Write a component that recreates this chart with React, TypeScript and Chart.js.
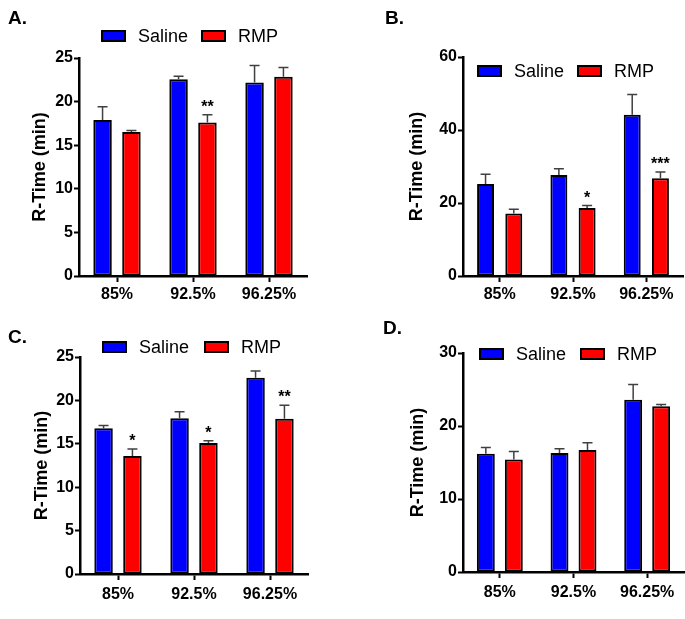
import React, { useEffect, useRef } from "react";
import { Chart, registerables } from "chart.js";
Chart.register(...registerables);

const categories = ["85%", "92.5%", "96.25%"];
const seriesNames = ["Saline", "RMP"];
const seriesColors = ["#0000FF", "#FF0000"];

// Panel A
const salineA = [17.9, 22.55, 22.2];
const salineSemA = [1.5, 0.35, 1.95];
const rmpA = [16.5, 17.6, 22.85];
const rmpSemA = [0.2, 0.9, 1.05];
const sigA = ["", "**", ""];
// Panel B
const salineB = [25.2, 27.7, 44.2];
const salineSemB = [2.7, 1.7, 5.5];
const rmpB = [17.1, 18.6, 26.8];
const rmpSemB = [1.2, 0.7, 1.7];
const sigB = ["", "*", "***"];
// Panel C
const salineC = [16.8, 17.95, 22.6];
const salineSemC = [0.3, 0.75, 0.8];
const rmpC = [13.6, 15.1, 17.9];
const rmpSemC = [0.8, 0.25, 1.55];
const sigC = ["*", "*", "**"];
// Panel D
const salineD = [16.2, 16.3, 23.6];
const salineSemD = [0.85, 0.6, 2.1];
const rmpD = [15.4, 16.7, 22.7];
const rmpSemD = [1.1, 1.0, 0.25];
const sigD = ["", "", ""];

const yTitle = "R-Time (min)";
const FONT = '"Liberation Sans", Arial, sans-serif';

type Panel = {
  title: string;
  saline: number[]; salineSem: number[];
  rmp: number[]; rmpSem: number[]; sig: string[];
  yMax: number; yStep: number;
  left: number; top: number; width: number; height: number;
  yAxisX: number; yTitleX: number; plotTop: number; plotBottom: number; plotRight: number;
  titleX: number; titleY: number; legendX: number; legendY: number; legendGap: number;
  catPct: number; barPct: number; xLabelPad: number;
};

const panels: Panel[] = [
  { title: "A.", saline: salineA, salineSem: salineSemA, rmp: rmpA, rmpSem: rmpSemA, sig: sigA, yMax: 25, yStep: 5,
    left: 0, top: 0, width: 342, height: 308, yAxisX: 79, yTitleX: 40, plotTop: 58, plotBottom: 276, plotRight: 307,
    titleX: 8, titleY: 19, legendX: 102, legendY: 36, legendGap: 100, catPct: 0.76, barPct: 0.64, xLabelPad: 3 },
  { title: "B.", saline: salineB, salineSem: salineSemB, rmp: rmpB, rmpSem: rmpSemB, sig: sigB, yMax: 60, yStep: 20,
    left: 343, top: 0, width: 342, height: 308, yAxisX: 120, yTitleX: 74, plotTop: 57, plotBottom: 276, plotRight: 340,
    titleX: 42, titleY: 19, legendX: 135, legendY: 71, legendGap: 100, catPct: 0.77, barPct: 0.6, xLabelPad: 3 },
  { title: "C.", saline: salineC, salineSem: salineSemC, rmp: rmpC, rmpSem: rmpSemC, sig: sigC, yMax: 25, yStep: 5,
    left: 0, top: 310, width: 342, height: 309, yAxisX: 80, yTitleX: 42, plotTop: 47, plotBottom: 264, plotRight: 308,
    titleX: 8, titleY: 28, legendX: 103, legendY: 37, legendGap: 102, catPct: 0.76, barPct: 0.64, xLabelPad: 5 },
  { title: "D.", saline: salineD, salineSem: salineSemD, rmp: rmpD, rmpSem: rmpSemD, sig: sigD, yMax: 30, yStep: 10,
    left: 343, top: 310, width: 342, height: 309, yAxisX: 120, yTitleX: 75, plotTop: 43, plotBottom: 262, plotRight: 341,
    titleX: 40, titleY: 19, legendX: 137, legendY: 44, legendGap: 101, catPct: 0.76, barPct: 0.64, xLabelPad: 5 },
];

const decorPlugin = {
  id: "decor",
  afterDatasetsDraw(chart: any) {
    const ctx = chart.ctx;
    const y = chart.scales.y;
    chart.data.datasets.forEach((ds: any, di: number) => {
      const meta = chart.getDatasetMeta(di);
      meta.data.forEach((bar: any, i: number) => {
        const x = bar.x;
        const top = y.getPixelForValue(ds.data[i] + ds.sem[i]);
        ctx.save();
        ctx.strokeStyle = "#404040";
        ctx.lineWidth = 1.5;
        ctx.beginPath();
        ctx.moveTo(x, bar.y);
        ctx.lineTo(x, top);
        ctx.moveTo(x - 5, top);
        ctx.lineTo(x + 5, top);
        ctx.stroke();
        const s = ds.sig ? ds.sig[i] : "";
        if (s) {
          ctx.font = `bold 16px ${FONT}`;
          ctx.textAlign = "center";
          ctx.textBaseline = "alphabetic";
          ctx.fillStyle = "#000";
          ctx.fillText(s, x, top - 3);
        }
        ctx.restore();
      });
    });
  },
  afterDraw(chart: any, _args: any, opts: any) {
    const ctx = chart.ctx;
    ctx.save();
    ctx.font = `bold 19px ${FONT}`;
    ctx.fillStyle = "#000";
    ctx.textAlign = "left";
    ctx.textBaseline = "middle";
    ctx.fillText(opts.title, opts.titleX, opts.titleY);
    chart.data.datasets.forEach((ds: any, di: number) => {
      const bx = opts.legendX + di * opts.legendGap;
      const by = opts.legendY;
      ctx.fillStyle = ds.backgroundColor;
      ctx.fillRect(bx, by - 5, 23, 10);
      ctx.strokeStyle = "#000";
      ctx.lineWidth = 2;
      ctx.strokeRect(bx, by - 5, 23, 10);
      ctx.fillStyle = "#000";
      ctx.font = `18px ${FONT}`;
      ctx.textBaseline = "middle";
      ctx.fillText(ds.label, bx + 36, by + 1);
    });
    ctx.restore();
  },
};

function PanelChart({ p }: { p: Panel }) {
  const ref = useRef<HTMLCanvasElement | null>(null);
  useEffect(() => {
    if (!ref.current) return;
    const padLeft = p.yTitleX - 10.8;
    const xHeight = 30;
    const chart = new Chart(ref.current, {
      type: "bar",
      data: {
        labels: categories,
        datasets: [
          { label: seriesNames[0], data: p.saline, sem: p.salineSem, sig: [], backgroundColor: seriesColors[0],
            borderColor: "#000", borderWidth: 2, borderSkipped: false, categoryPercentage: p.catPct, barPercentage: p.barPct } as any,
          { label: seriesNames[1], data: p.rmp, sem: p.rmpSem, sig: p.sig, backgroundColor: seriesColors[1],
            borderColor: "#000", borderWidth: 2, borderSkipped: false, categoryPercentage: p.catPct, barPercentage: p.barPct } as any,
        ],
      },
      options: {
        responsive: false,
        animation: false,
        layout: {
          padding: {
            left: padLeft,
            top: p.plotTop,
            right: p.width - p.plotRight,
            bottom: p.height - p.plotBottom - xHeight,
          },
        },
        plugins: {
          legend: { display: false },
          tooltip: { enabled: false },
          decor: {
            title: p.title, titleX: p.titleX, titleY: p.titleY,
            legendX: p.legendX, legendY: p.legendY, legendGap: p.legendGap,
          },
        } as any,
        scales: {
          x: {
            afterFit: (s: any) => { s.height = xHeight; },
            grid: { display: true, drawOnChartArea: false, drawTicks: true, tickLength: 6, tickWidth: 2, tickColor: "#000", offset: false },
            border: { display: true, color: "#000", width: 2.5 },
            ticks: { color: "#000", padding: p.xLabelPad, font: { family: FONT, size: 16, weight: "bold" }, maxRotation: 0 },
          },
          y: {
            min: 0,
            max: p.yMax,
            afterFit: (s: any) => { s.width = p.yAxisX - padLeft; },
            grid: { display: true, drawOnChartArea: false, drawTicks: true, tickLength: 5, tickWidth: 2, tickColor: "#000" },
            border: { display: true, color: "#000", width: 2.5 },
            ticks: { stepSize: p.yStep, color: "#000", padding: 1, font: { family: FONT, size: 16, weight: "bold" } },
            title: { display: true, text: yTitle, color: "#000", padding: 0, font: { family: FONT, size: 18, weight: "bold" } },
          },
        },
      },
      plugins: [decorPlugin],
    });
    return () => chart.destroy();
  }, [p]);
  return (
    <canvas
      ref={ref}
      width={p.width}
      height={p.height}
      style={{ position: "absolute", left: p.left, top: p.top, width: p.width, height: p.height }}
    />
  );
}

export default function App() {
  return (
    <div style={{ position: "absolute", left: 0, top: 0, width: 685, height: 619, background: "#fff" }}>
      {panels.map((p) => (
        <PanelChart key={p.title} p={p} />
      ))}
    </div>
  );
}
